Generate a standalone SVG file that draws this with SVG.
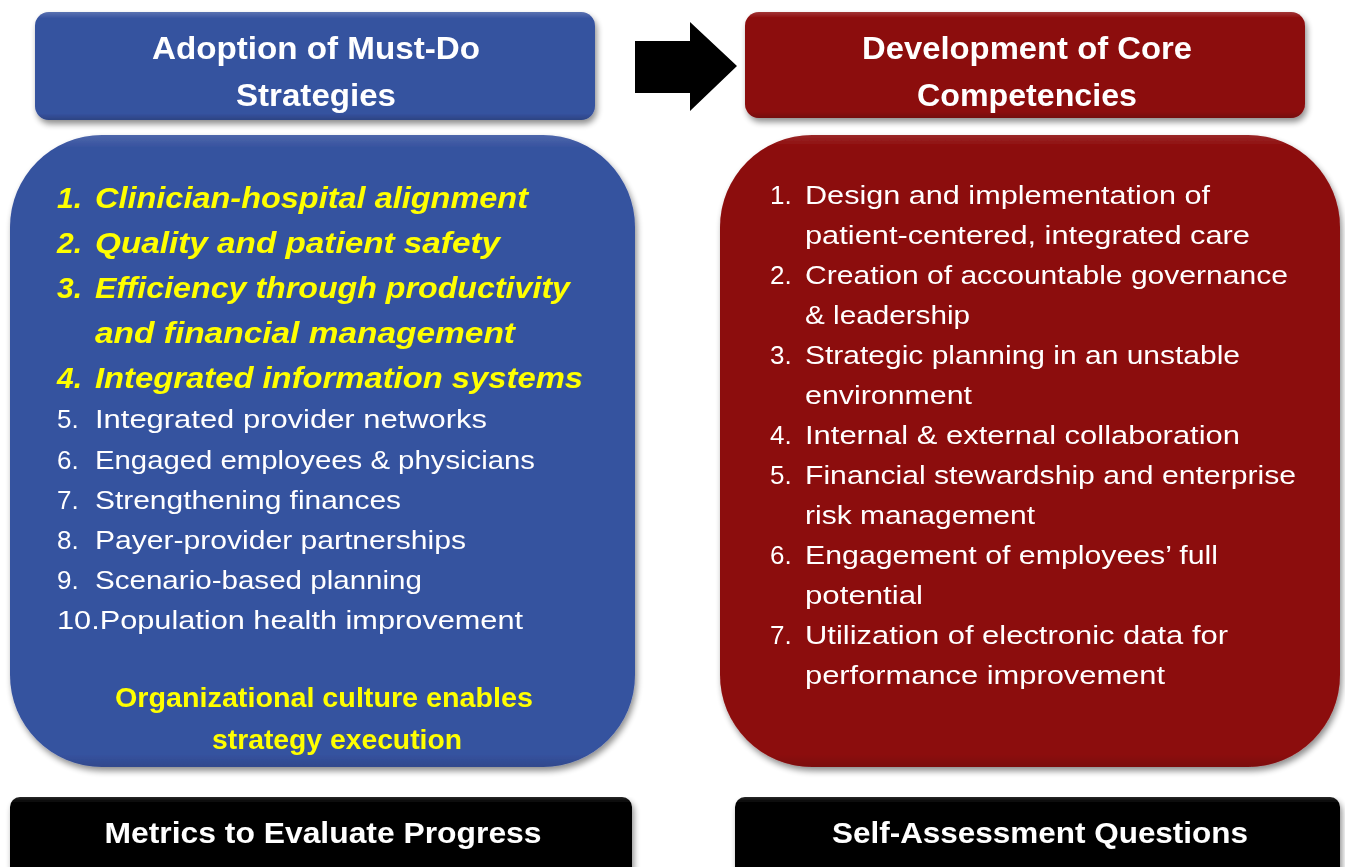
<svg xmlns="http://www.w3.org/2000/svg" width="1345" height="867" viewBox="0 0 1345 867">
<defs>
<filter id="sh" x="-5%" y="-5%" width="112%" height="115%">
<feGaussianBlur in="SourceAlpha" stdDeviation="3"/>
<feOffset dx="2" dy="4" result="b"/>
<feComponentTransfer><feFuncA type="linear" slope="0.45"/></feComponentTransfer>
<feMerge><feMergeNode/><feMergeNode in="SourceGraphic"/></feMerge>
</filter>
<linearGradient id="gloss" x1="0" y1="0" x2="0" y2="1">
<stop offset="0" stop-color="#fff" stop-opacity="0.18"/>
<stop offset="0.06" stop-color="#fff" stop-opacity="0"/>
<stop offset="0.94" stop-color="#000" stop-opacity="0"/>
<stop offset="1" stop-color="#000" stop-opacity="0.18"/>
</linearGradient>
<linearGradient id="glossBig" x1="0" y1="0" x2="0" y2="1">
<stop offset="0" stop-color="#fff" stop-opacity="0.12"/>
<stop offset="0.02" stop-color="#fff" stop-opacity="0"/>
<stop offset="0.98" stop-color="#000" stop-opacity="0"/>
<stop offset="1" stop-color="#000" stop-opacity="0.12"/>
</linearGradient>
<style>
.blue{fill:#36529F}
.red{fill:#8C090A}
.blk{fill:#060606}
.hdr{font-family:"Liberation Sans",Arial,sans-serif;font-weight:bold;font-size:32px;fill:#fff;text-anchor:middle}
.yb{font-family:"Liberation Sans",Arial,sans-serif;font-weight:bold;font-style:italic;font-size:30px;fill:#FFFF00}
.wt{font-family:"Liberation Sans",Arial,sans-serif;font-size:26px;fill:#fff}
.ft{font-family:"Liberation Sans",Arial,sans-serif;font-weight:bold;font-size:27px;fill:#FFFF00;text-anchor:middle}
</style>
</defs>
<rect width="1345" height="867" fill="#fff"/>

<g id="connectors">
<polygon points="635,41 690,41 690,22 737,66 690,111 690,93 635,93" fill="#000"/>
</g>

<g id="header-left" filter="url(#sh)">
<rect x="35" y="12" width="560" height="108" rx="14" class="blue"/>
<rect x="35" y="12" width="560" height="108" rx="14" fill="url(#gloss)"/>
<text class="hdr" x="316" y="59" textLength="328" lengthAdjust="spacingAndGlyphs">Adoption of Must-Do</text>
<text class="hdr" x="316" y="106" textLength="160" lengthAdjust="spacingAndGlyphs">Strategies</text>
</g>

<g id="header-right" filter="url(#sh)">
<rect x="745" y="12" width="560" height="106" rx="14" class="red"/>
<rect x="745" y="12" width="560" height="106" rx="14" fill="url(#gloss)"/>
<text class="hdr" x="1027" y="59" textLength="330" lengthAdjust="spacingAndGlyphs">Development of Core</text>
<text class="hdr" x="1027" y="106" textLength="220" lengthAdjust="spacingAndGlyphs">Competencies</text>
</g>

<g id="box-left" filter="url(#sh)">
<rect x="10" y="135" width="625" height="632" rx="92" class="blue"/>
<rect x="10" y="135" width="625" height="632" rx="92" fill="url(#glossBig)"/>
<text class="yb" x="57" y="208">1.</text><text class="yb" x="95" y="208" textLength="433" lengthAdjust="spacingAndGlyphs">Clinician-hospital alignment</text>
<text class="yb" x="57" y="253">2.</text><text class="yb" x="95" y="253" textLength="405" lengthAdjust="spacingAndGlyphs">Quality and patient safety</text>
<text class="yb" x="57" y="298">3.</text><text class="yb" x="95" y="298" textLength="475" lengthAdjust="spacingAndGlyphs">Efficiency through productivity</text>
<text class="yb" x="95" y="343" textLength="420" lengthAdjust="spacingAndGlyphs">and financial management</text>
<text class="yb" x="57" y="388">4.</text><text class="yb" x="95" y="388" textLength="488" lengthAdjust="spacingAndGlyphs">Integrated information systems</text>
<text class="wt" x="57" y="428">5.</text><text class="wt" x="95" y="428" textLength="392" lengthAdjust="spacingAndGlyphs">Integrated provider networks</text>
<text class="wt" x="57" y="469">6.</text><text class="wt" x="95" y="469" textLength="440" lengthAdjust="spacingAndGlyphs">Engaged employees &amp; physicians</text>
<text class="wt" x="57" y="509">7.</text><text class="wt" x="95" y="509" textLength="306" lengthAdjust="spacingAndGlyphs">Strengthening finances</text>
<text class="wt" x="57" y="549">8.</text><text class="wt" x="95" y="549" textLength="371" lengthAdjust="spacingAndGlyphs">Payer-provider partnerships</text>
<text class="wt" x="57" y="589">9.</text><text class="wt" x="95" y="589" textLength="327" lengthAdjust="spacingAndGlyphs">Scenario-based planning</text>
<text class="wt" x="57" y="629" textLength="466" lengthAdjust="spacingAndGlyphs">10.Population health improvement</text>
<text class="ft" x="324" y="707" textLength="418" lengthAdjust="spacingAndGlyphs">Organizational culture enables</text>
<text class="ft" x="337" y="749" textLength="250" lengthAdjust="spacingAndGlyphs">strategy execution</text>
</g>

<g id="box-right" filter="url(#sh)">
<rect x="720" y="135" width="620" height="632" rx="92" class="red"/>
<rect x="720" y="135" width="620" height="632" rx="92" fill="url(#glossBig)"/>
<text class="wt" x="770" y="204">1.</text><text class="wt" x="805" y="204" textLength="405" lengthAdjust="spacingAndGlyphs">Design and implementation of</text>
<text class="wt" x="805" y="244" textLength="445" lengthAdjust="spacingAndGlyphs">patient-centered, integrated care</text>
<text class="wt" x="770" y="284">2.</text><text class="wt" x="805" y="284" textLength="483" lengthAdjust="spacingAndGlyphs">Creation of accountable governance</text>
<text class="wt" x="805" y="324" textLength="165" lengthAdjust="spacingAndGlyphs">&amp; leadership</text>
<text class="wt" x="770" y="364">3.</text><text class="wt" x="805" y="364" textLength="435" lengthAdjust="spacingAndGlyphs">Strategic planning in an unstable</text>
<text class="wt" x="805" y="404" textLength="167" lengthAdjust="spacingAndGlyphs">environment</text>
<text class="wt" x="770" y="444">4.</text><text class="wt" x="805" y="444" textLength="435" lengthAdjust="spacingAndGlyphs">Internal &amp; external collaboration</text>
<text class="wt" x="770" y="484">5.</text><text class="wt" x="805" y="484" textLength="491" lengthAdjust="spacingAndGlyphs">Financial stewardship and enterprise</text>
<text class="wt" x="805" y="524" textLength="230" lengthAdjust="spacingAndGlyphs">risk management</text>
<text class="wt" x="770" y="564">6.</text><text class="wt" x="805" y="564" textLength="413" lengthAdjust="spacingAndGlyphs">Engagement of employees’ full</text>
<text class="wt" x="805" y="604" textLength="118" lengthAdjust="spacingAndGlyphs">potential</text>
<text class="wt" x="770" y="644">7.</text><text class="wt" x="805" y="644" textLength="423" lengthAdjust="spacingAndGlyphs">Utilization of electronic data for</text>
<text class="wt" x="805" y="684" textLength="360" lengthAdjust="spacingAndGlyphs">performance improvement</text>
</g>

<g id="footer-left" filter="url(#sh)">
<rect x="10" y="797" width="622" height="80" rx="10" class="blk"/>
<rect x="10" y="797" width="622" height="80" rx="10" fill="url(#gloss)" opacity="0.8"/>
<text class="hdr" x="323" y="843" font-size="29" style="font-size:29px" textLength="437" lengthAdjust="spacingAndGlyphs">Metrics to Evaluate Progress</text>
</g>

<g id="footer-right" filter="url(#sh)">
<rect x="735" y="797" width="605" height="80" rx="10" class="blk"/>
<rect x="735" y="797" width="605" height="80" rx="10" fill="url(#gloss)" opacity="0.8"/>
<text class="hdr" x="1040" y="843" style="font-size:29px" textLength="416" lengthAdjust="spacingAndGlyphs">Self-Assessment Questions</text>
</g>
</svg>
